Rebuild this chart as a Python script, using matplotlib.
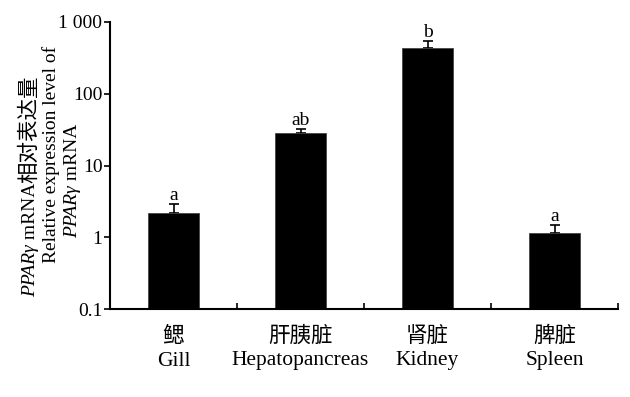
import numpy as np
import matplotlib
matplotlib.use('Agg')
import matplotlib.pyplot as plt

plt.rcParams['font.family'] = ['Liberation Serif', 'Noto Sans CJK SC']
plt.rcParams['font.size'] = 14

# data
tissues_cn = ['鳃', '肝胰脏', '肾脏', '脾脏']
tissues_en = ['Gill', 'Hepatopancreas', 'Kidney', 'Spleen']
expression = [2.2, 28.0, 430.0, 1.14]
error = [0.7, 4.5, 115.0, 0.33]
letters = ['a', 'ab', 'b', 'a']
ytick_vals = [0.1, 1, 10, 100, 1000]
ytick_labels = ['0.1', '1', '10', '100', '1 000']

W, H = 630, 397
fig = plt.figure(figsize=(W / 100, H / 100), dpi=100)
ax = fig.add_axes([110 / W, 1 - 309 / H, 508 / W, 287 / H])

x = np.arange(len(expression)) + 0.5
ax.bar(x, expression, width=0.4, color='black', edgecolor='#444444', linewidth=0.6, zorder=2)
ax.errorbar(x, expression, yerr=[np.zeros(len(error)), error], fmt='none',
            ecolor='black', elinewidth=1.2, capsize=3.3, capthick=1.2, zorder=1)
for xi, v, e, t in zip(x, expression, error, letters):
    ax.annotate(t, (xi, v + e), xytext=(0, 0), textcoords='offset points',
                ha='center', va='bottom', fontsize=14)

ax.set_yscale('log')
ax.set_ylim(0.1, 1000)
ax.set_xlim(0, 4)
ax.set_yticks(ytick_vals)
ax.set_yticklabels(ytick_labels)
ax.yaxis.set_minor_locator(matplotlib.ticker.NullLocator())
ax.set_xticks([1, 2, 3, 4])
ax.set_xticklabels([])
ax.tick_params(axis='y', direction='out', length=4, width=1.2, pad=1.5)
ax.tick_params(axis='x', direction='in', length=4, width=1.2)
for s in ['top', 'right']:
    ax.spines[s].set_visible(False)
for s in ['left', 'bottom']:
    ax.spines[s].set_linewidth(1.5)

tr = ax.get_xaxis_transform()
for xi, cn, en in zip(x, tissues_cn, tissues_en):
    ax.text(xi, -27 / 287, cn, transform=tr, ha='center', va='center', fontsize=15.5,
            family=['Noto Sans CJK SC'])
    ax.text(xi, -52 / 287, en, transform=tr, ha='center', va='center', fontsize=15.5)

# y label: three rotated lines built from pieces
lines = [
    (35, 297, [('PPARγ', 'italic', 14), (' mRNA', 'normal', 14), ('相对表达量', 'normal', 15.5)]),
    (56, 263, [('Relative expression level of', 'normal', 14)]),
    (77, 238, [('PPARγ', 'italic', 14), (' mRNA', 'normal', 14)]),
]
fig.canvas.draw()
renderer = fig.canvas.get_renderer()
for bx, by, pieces in lines:
    ypos = by
    for txt, style, fs in pieces:
        t = fig.text(bx / W, 1 - ypos / H, txt, rotation=90, rotation_mode='anchor',
                     ha='left', va='baseline', style=style, fontsize=fs)
        ext = t.get_window_extent(renderer)
        ypos -= ext.height

fig.savefig('out.png', dpi=100)
